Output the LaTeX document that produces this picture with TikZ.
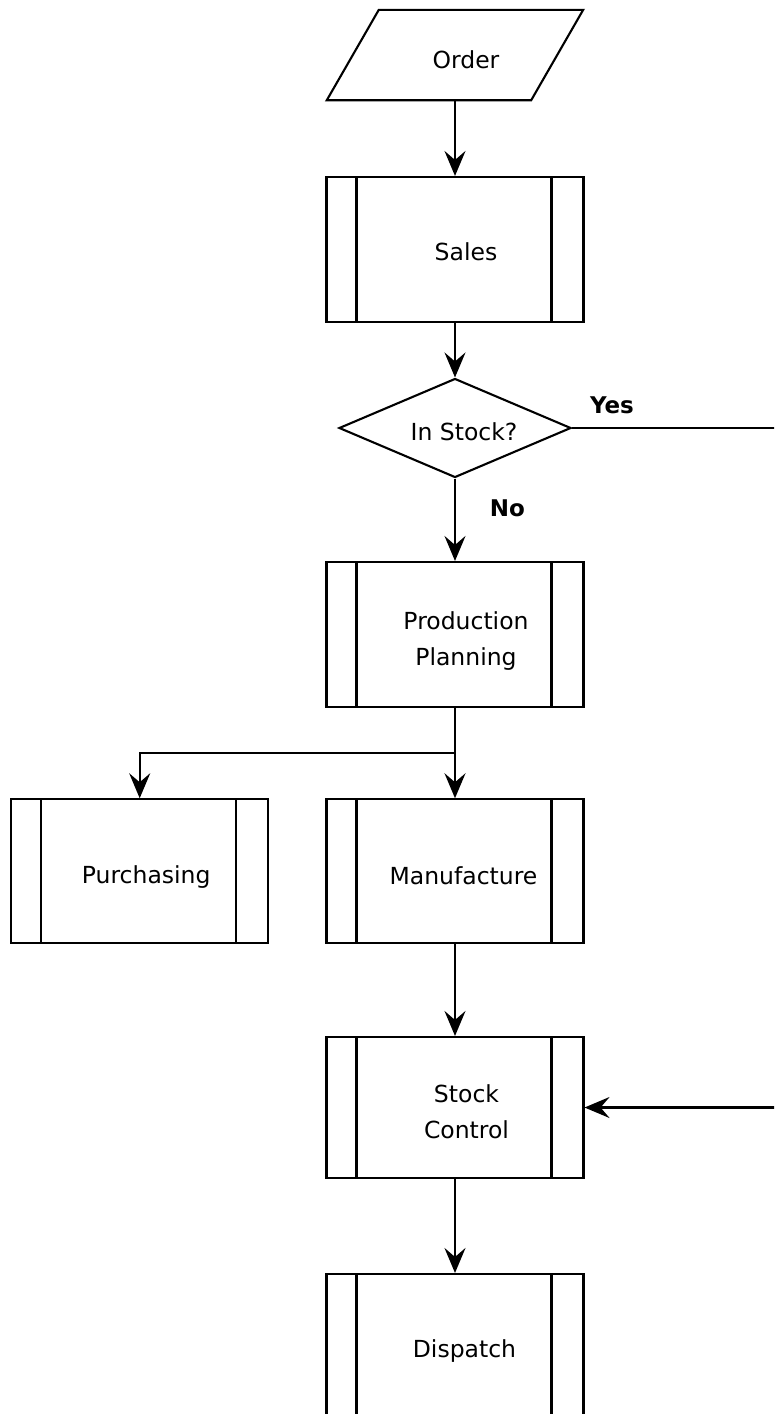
\documentclass[tikz,border=0pt]{standalone}
\usepackage{fontspec}
\setmainfont{DejaVu Sans}
\usetikzlibrary{shapes.geometric,arrows.meta}
\tikzset{
  lw/.style={line width=2.1pt},
  arr/.style={lw, -{Stealth[length=25pt,width=21pt,inset=9pt]}},
  proc/.style={draw, lw, rectangle, inner sep=0pt, minimum width=257pt, minimum height=145pt,
    path picture={
      \draw[lw] ([xshift=30pt]path picture bounding box.north west) -- ([xshift=30pt]path picture bounding box.south west);
      \draw[lw] ([xshift=-32pt]path picture bounding box.north east) -- ([xshift=-32pt]path picture bounding box.south east);
    }},
  decision/.style={draw, lw, diamond, inner sep=0pt, minimum width=232pt, minimum height=99pt},
  io/.style={inner sep=0pt, minimum width=152pt, minimum height=90pt},
  every label/.style={inner sep=0pt, align=center},
  yn/.style={font=\fontsize{23}{36}\selectfont\bfseries, inner sep=0pt}
}
\begin{document}
\begin{tikzpicture}[x=1pt,y=-1pt,font=\fontsize{23.5}{36}\selectfont]
\useasboundingbox (0,0) rectangle (774,1414);
\clip (0,0) rectangle (774,1414);

\node[io, label={[xshift=11pt,yshift=-5pt]center:Order}] (order) at (455,55) {};
\draw[lw, line join=miter] ([xshift=-52pt]order.south west) -- (order.north west) -- ([xshift=52pt]order.north east) -- (order.south east) -- cycle;

\node[proc, label={[xshift=11pt,yshift=-2.5pt]center:Sales}] (sales) at (455,249.5) {};
\node[decision, label={[xshift=9pt,yshift=-4pt]center:In Stock?}] (check) at (455,428) {};
\node[proc, label={[xshift=11pt,yshift=-7pt]center:{Production\\Planning}}] (prod) at (455,634.5) {};
\node[proc, minimum height=144pt, label={[xshift=6.5pt,yshift=-6pt]center:Purchasing}] (purch) at (139.7,871.3) {};
\node[proc, minimum height=144pt, label={[xshift=8.5pt,yshift=-4pt]center:Manufacture}] (manu) at (455,871.3) {};
\node[proc, minimum height=141pt, label={[xshift=11.5pt,yshift=-4pt]center:{Stock\\Control}}] (stock) at (455,1107.5) {};
\node[proc, minimum height=144pt, label={[xshift=9.5pt,yshift=-4.5pt]center:Dispatch}] (disp) at (455,1346) {};

\node[yn] (yes) at (612,405) {Yes};
\node[yn] (no) at (507.5,508) {No};

\coordinate (yesEnd) at (800,428);
\coordinate (split) at (455,753);
\coordinate (inStart) at (800,1107.5);

\draw[arr] (order.south) -- (sales.north);
\draw[arr] (sales.south) -- (check.north);
\draw[lw] (check.east) -- (yesEnd);
\draw[arr] (check.south) -- (prod.north);
\draw[arr] (prod.south) -- (manu.north);
\draw[arr] (split) -| (purch.north);
\draw[arr] (manu.south) -- (stock.north);
\draw[arr] (inStart) -- (stock.east);
\draw[arr] (stock.south) -- (disp.north);
\end{tikzpicture}
\end{document}
